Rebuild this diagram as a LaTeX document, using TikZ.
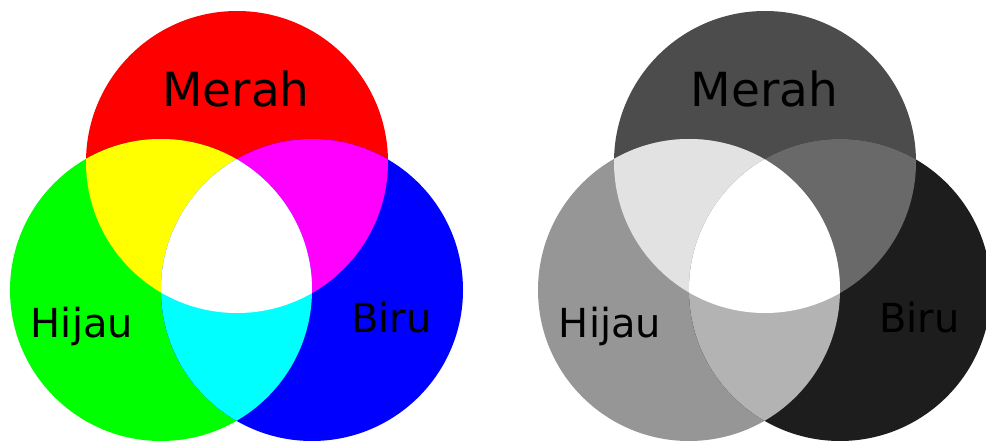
\documentclass[tikz,border=0pt]{standalone}
\usepackage{fontspec}
\setmainfont{DejaVu Sans}
\definecolor{cR}{RGB}{255,0,0}
\definecolor{cG}{RGB}{0,255,0}
\definecolor{cB}{RGB}{0,0,255}
\definecolor{cY}{RGB}{255,255,0}
\definecolor{cM}{RGB}{255,0,255}
\definecolor{cC}{RGB}{0,255,255}
\definecolor{gR}{RGB}{76,76,76}
\definecolor{gG}{RGB}{150,150,150}
\definecolor{gB}{RGB}{29,29,29}
\definecolor{gY}{RGB}{226,226,226}
\definecolor{gM}{RGB}{105,105,105}
\definecolor{gC}{RGB}{179,179,179}
\tikzset{
  bigl/.style={font=\fontsize{47}{56}\selectfont, text=black, inner sep=0pt, anchor=base},
  smalll/.style={font=\fontsize{40}{48}\selectfont, text=black, inner sep=0pt, anchor=base},
}
% #1 x offset, colours: R G B Y M C
\newcommand{\rgbvenn}[7]{%
  \begin{scope}[xshift=#1pt]
    \fill[#2] (237,162) circle[radius=151pt];
    \fill[#3] (161,290) circle[radius=151pt];
    \fill[#4] (312,290) circle[radius=151pt];
    \begin{scope}
      \clip (237,162) circle[radius=151pt];
      \fill[#5] (161,290) circle[radius=151pt];
      \fill[#6] (312,290) circle[radius=151pt];
    \end{scope}
    \begin{scope}
      \clip (161,290) circle[radius=151pt];
      \fill[#7] (312,290) circle[radius=151pt];
    \end{scope}
    \begin{scope}
      \clip (237,162) circle[radius=151pt];
      \clip (161,290) circle[radius=151pt];
      \fill[white] (312,290) circle[radius=151pt];
    \end{scope}
  \end{scope}}
\begin{document}
\begin{tikzpicture}[x=1pt,y=-1pt]
  \useasboundingbox (0,0) rectangle (986,441);
  \fill[white] (0,0) rectangle (986,441);
  \begin{scope}
    \clip (0,0) rectangle (986,441);
    \rgbvenn{0}{cR}{cG}{cB}{cY}{cM}{cC}
    \rgbvenn{528}{gR}{gG}{gB}{gY}{gM}{gC}
  \end{scope}
  \node[bigl] (merahL) at (236,107) {Merah};
  \node[smalll] (hijauL) at (82,337) {Hijau};
  \node[smalll] (biruL) at (391.5,332) {Biru};
  \node[bigl] (merahR) at (764.5,107) {Merah};
  \node[smalll] (hijauR) at (610,337) {Hijau};
  \node[smalll] (biruR) at (919.5,332) {Biru};
\end{tikzpicture}
\end{document}
